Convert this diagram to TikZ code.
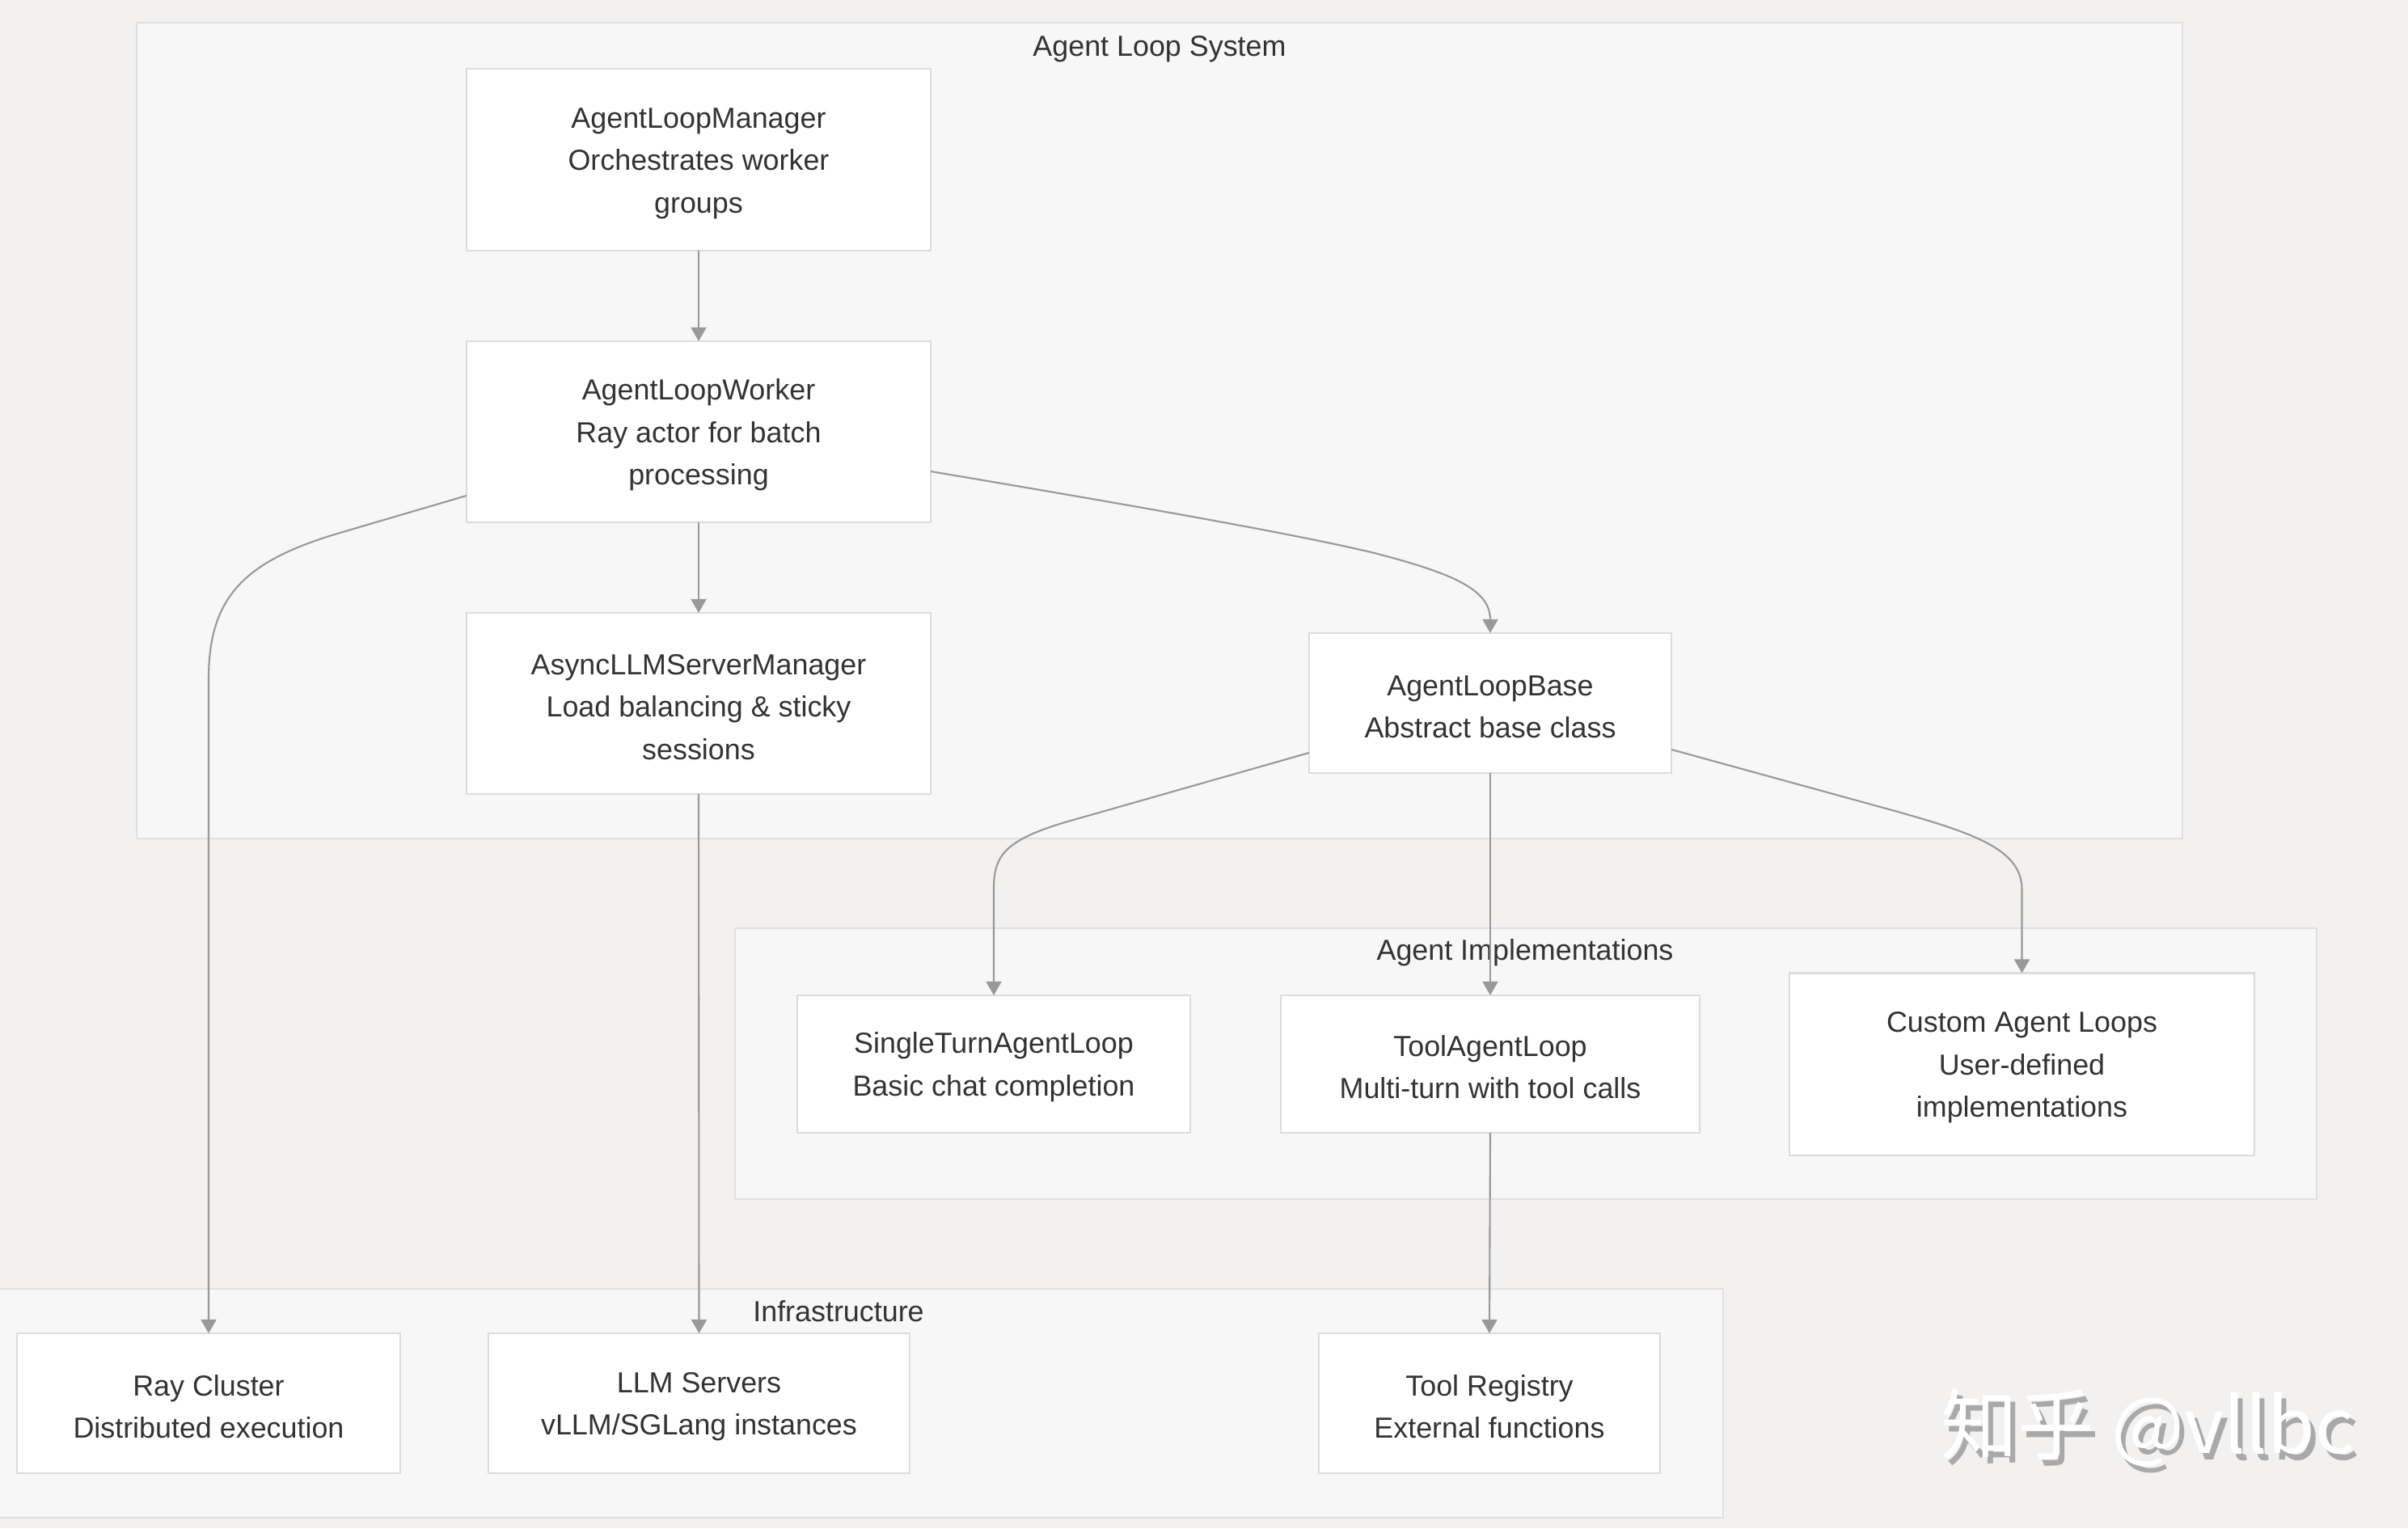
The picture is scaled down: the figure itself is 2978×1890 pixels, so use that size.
\documentclass[tikz,border=0pt]{standalone}
\usepackage{fontspec}
\setmainfont{Liberation Sans}
\newfontfamily\cjkwm{Noto Sans CJK SC}
\usetikzlibrary{arrows.meta,calc}
\definecolor{bgc}{HTML}{F2F1F0}
\definecolor{clfill}{HTML}{F7F7F7}
\definecolor{cldraw}{HTML}{E0E0E0}
\definecolor{nddraw}{HTML}{DCDCDC}
\definecolor{edgec}{HTML}{999999}
\definecolor{txtc}{HTML}{333333}
\definecolor{wmshadow}{HTML}{A9A9A9}
\newcommand\bxstrut{\rule{0pt}{9.6pt}}
\begin{document}
\begin{tikzpicture}[x=0.01cm,y=-0.01cm,
  box/.style={draw=nddraw,fill=white,line width=0.6pt,align=center,text=txtc,
    font=\fontsize{10.2}{14.9}\selectfont,inner sep=0pt,outer sep=0pt},
  cluster/.style={draw=cldraw,fill=clfill,line width=0.6pt},
  cltitle/.style={text=txtc,font=\fontsize{10.2}{14.9}\selectfont,inner sep=0pt},
  edge/.style={draw=edgec,line width=0.6pt,-{Triangle[length=0.17cm,width=0.19cm]}},
  wm/.style={font=\cjkwm\fontsize{27}{30}\selectfont,inner sep=0pt}]
\useasboundingbox (0,0) rectangle (2978,1890);
\fill[bgc] (0,0) rectangle (2978,1890);

% clusters
\draw[cluster] (169,28) rectangle (2699,1037);
\draw[cluster] (909,1148) rectangle (2865,1483);
\draw[cluster] (-5,1594) rectangle (2131,1877);
\node[cltitle] (tALS) at (1434,61) {Agent Loop System};
\node[cltitle] (tAI) at (1886,1178) {Agent Implementations};
\node[cltitle] (tINF) at (1037,1622) {Infrastructure};

% nodes
\node[box,minimum width=5.74cm,minimum height=2.25cm] (mgr) at (864,197.5) {\bxstrut AgentLoopManager\\Orchestrates worker\\groups};
\node[box,minimum width=5.74cm,minimum height=2.24cm] (wkr) at (864,534) {\bxstrut AgentLoopWorker\\Ray actor for batch\\processing};
\node[box,minimum width=5.74cm,minimum height=2.24cm] (asy) at (864,870) {\bxstrut AsyncLLMServerManager\\Load balancing \& sticky\\sessions};
\node[box,minimum width=4.48cm,minimum height=1.73cm] (base) at (1843,869.5) {\bxstrut AgentLoopBase\\Abstract base class};
\node[box,minimum width=4.86cm,minimum height=1.70cm] (single) at (1229,1316) {\bxstrut SingleTurnAgentLoop\\Basic chat completion};
\node[box,minimum width=5.18cm,minimum height=1.70cm] (tool) at (1843,1316) {\bxstrut ToolAgentLoop\\Multi-turn with tool calls};
\node[box,minimum width=5.75cm,minimum height=2.25cm] (custom) at (2500.5,1316) {\bxstrut Custom Agent Loops\\User-defined\\implementations};
\node[box,minimum width=4.74cm,minimum height=1.73cm] (ray) at (258,1735.5) {\bxstrut Ray Cluster\\Distributed execution};
\node[box,minimum width=5.20cm,minimum height=1.73cm] (llm) at (864.5,1735.5) {\bxstrut LLM Servers\\vLLM/SGLang instances};
\node[box,minimum width=4.22cm,minimum height=1.73cm] (treg) at (1842,1735.5) {\bxstrut Tool Registry\\External functions};

% edges
\draw[edge] (mgr.south) -- (wkr.north);
\draw[edge] (wkr.south) -- (asy.north);
\draw[edge] ($(wkr.east)+(0,49)$) .. controls (1400,625) and (1600,660) .. (1700,684)
   .. controls (1800,710) and (1843,730) .. (base.north);
\draw[edge] ($(wkr.west)+(0,79)$) -- (417,660) .. controls (300,695) and (258,740) .. (258,840) -- (ray.north);
\draw[edge] (asy.south) -- (llm.north);
\draw[edge] ($(base.west)+(0,61.5)$) -- (1317,1017) .. controls (1240,1040) and (1229,1060) .. (1229,1100) -- (single.north);
\draw[edge] (base.south) -- (tool.north);
\draw[edge] ($(base.east)+(0,57.5)$) -- (2340,1002) .. controls (2440,1030) and (2500.5,1050) .. (2500.5,1100) -- (custom.north);
\draw[edge] (tool.south) -- (treg.north);

% watermark
\node[wm,text=wmshadow] (wmS) at (2662,1774) {知乎 @vllbc};
\node[wm,text=white] (wmT) at (2656,1766) {知乎 @vllbc};
\end{tikzpicture}
\end{document}
